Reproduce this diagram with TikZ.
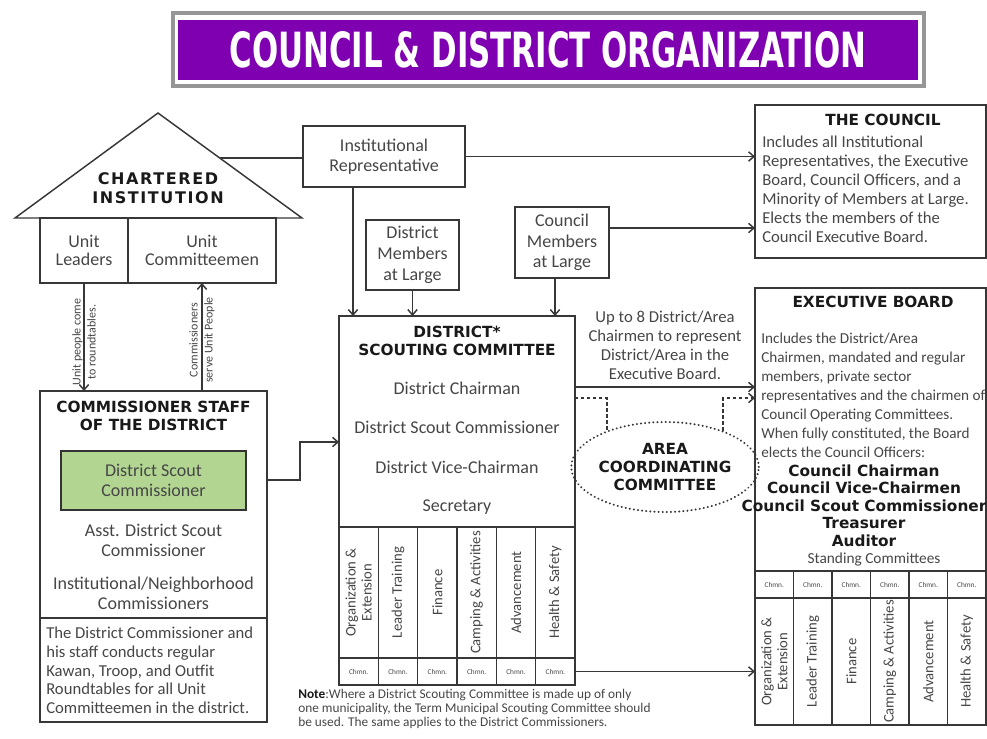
\documentclass[tikz,border=0pt]{standalone}
\usepackage{fontspec}
\setmainfont{Carlito}
\newfontfamily\headfont{DejaVu Sans}
\usepackage{graphicx}
\usetikzlibrary{positioning}
\usetikzlibrary{calc}
\usetikzlibrary{arrows.meta}
\usetikzlibrary{shapes.geometric}

\newdimen\px \px=0.75pt

\definecolor{titlepurple}{RGB}{126,0,176}
\definecolor{framegray}{RGB}{150,150,150}
\definecolor{inkgray}{RGB}{55,55,55}
\definecolor{textgray}{RGB}{70,70,70}
\definecolor{headblack}{RGB}{25,25,25}
\definecolor{dscgreen}{RGB}{178,214,146}

\tikzset{
  outline/.style={draw=inkgray, line width=1.1pt},
  box/.style={outline, inner sep=0pt, outer sep=0pt},
  txt/.style={font=\fontsize{13.5}{15}\selectfont, text=textgray, align=center},
  para/.style={font=\fontsize{12.5}{14.3}\selectfont, text=textgray, align=left, inner sep=0pt},
  head/.style={font=\headfont\bfseries\fontsize{11.5}{13.5}\selectfont, text=headblack, align=center},
  collabel/.style={rotate=90, font=\fontsize{11}{12}\selectfont, text=textgray, align=center},
  chmn/.style={box, font=\fontsize{5.5}{6}\selectfont, text=textgray},
  tinylabel/.style={rotate=90, font=\fontsize{9}{11.25}\selectfont, text=textgray, align=center, inner sep=0pt},
  conn/.style={outline, ->},
  dashconn/.style={draw=inkgray, line width=1.1pt, dash pattern=on 2.5pt off 2pt, ->},
}

\begin{document}
\begin{tikzpicture}[x=0.75pt, y=-0.75pt, >={Straight Barb[length=4pt,width=7pt]}]
    \useasboundingbox (0,0) rectangle (987,738);

    % title banner
    \draw[framegray, line width=2.5pt, fill=white] (173,13) rectangle (924,86);
    \node[fill=titlepurple, text=white, minimum width=740\px, minimum height=60\px, inner sep=0pt] (title) at (548,50)
        {\resizebox{637\px}{36\px}{\headfont\bfseries COUNCIL \& DISTRICT ORGANIZATION}};

    % the chartered institution house
    \draw[outline] (15,218) -- (158,113) -- (302,218) -- cycle;
    \coordinate (roofpt) at (220,158);
    \node[head, font=\headfont\bfseries\fontsize{12}{14.5}\selectfont\addfontfeature{LetterSpace=10}] (chartered) at (158,188) {CHARTERED\\INSTITUTION};
    \node[box, txt, font=\fontsize{13.5}{13.5}\selectfont, minimum width=88\px, minimum height=65\px] (unitlead) at (84,250.5) {Unit\\Leaders};
    \node[box, txt, font=\fontsize{13.5}{13.5}\selectfont, minimum width=148\px, minimum height=65\px, right=0pt of unitlead] (unitcomm) {Unit\\Committeemen};

    % commissioner staff
    \node[box, minimum width=227\px, minimum height=227\px] (comstaff) at (153.5,504.5) {};
    \node[head] (comhead) at (153.5,416) {COMMISSIONER STAFF\\OF THE DISTRICT};
    \node[box, draw=black!80, fill=dscgreen, txt, minimum width=185\px, minimum height=59\px] (comdsc) at (153.5,480.5) {District Scout\\Commissioner};
    \node[txt] (comasst) at (153.5,540) {Asst. District Scout\\Commissioner};
    \node[txt] (cominst) at (153.5,593) {Institutional/Neighborhood\\Commissioners};
    \node[box, minimum width=227\px, minimum height=104\px, below=0pt of comstaff] (comnote) {};
    \node[para, font=\fontsize{12.5}{14}\selectfont, anchor=west] (comnotetxt) at (46,670.5) {The District Commissioner and\\his staff conducts regular\\Kawan, Troop, and Outfit\\Roundtables for all Unit\\Committeemen in the district.};

    % institutional representative and members at large
    \node[box, txt, minimum width=162\px, minimum height=61\px] (instrep) at (384,156.5) {Institutional\\Representative};
    \node[box, txt, font=\fontsize{13.5}{15.5}\selectfont, minimum width=93\px, minimum height=70\px] (dmal) at (412.5,255) {District\\Members\\at Large};
    \node[box, txt, font=\fontsize{13.5}{15.5}\selectfont, minimum width=94\px, minimum height=71\px] (cmal) at (562,242.5) {Council\\Members\\at Large};

    % district scouting committee
    \node[box, minimum width=236\px, minimum height=211\px] (dsctop) at (457,421.5) {};
    \node[head] (dschead) at (457,341) {DISTRICT*\\SCOUTING COMMITTEE};
    \node[txt] (dscchair) at (457,388) {District Chairman};
    \node[txt] (dscscout) at (457,427) {District Scout Commissioner};
    \node[txt] (dscvice) at (457,467) {District Vice-Chairman};
    \node[txt] (dscsec) at (457,507) {Secretary};
    \foreach \lbl [count=\i] in {{Organization \&\\Extension}, Leader Training, Finance, {Camping \& Activities}, Advancement, {Health \& Safety}} {
        \node[box, minimum width=39.33\px, minimum height=131\px] (dcol\i) at ({339+(\i-0.5)*39.33},592.5) {};
        \node[collabel] (dcoltxt\i) at (dcol\i) {\lbl};
        \node[chmn, minimum width=39.33\px, minimum height=27\px] (dchmn\i) at ({339+(\i-0.5)*39.33},671.5) {Chmn.};
    }
    \node[txt, font=\fontsize{12.5}{14.3}\selectfont] (upto) at (665,345.5) {Up to 8 District/Area\\Chairmen to represent\\District/Area in the\\Executive Board.};
    \node[ellipse, draw=inkgray, line width=1.6pt, dash pattern=on 0.1pt off 3pt, line cap=round, minimum width=148\px, minimum height=90\px, head, inner sep=0pt] (area) at (665,467) {AREA\\COORDINATING\\COMMITTEE};

    % the council
    \node[box, minimum width=231\px, minimum height=153\px] (council) at (870.5,181.5) {};
    \node[head] (councilhead) at (883,120) {THE COUNCIL};
    \node[para, anchor=west] (counciltxt) at (762,189.5) {Includes all Institutional\\Representatives, the Executive\\Board, Council Officers, and a\\Minority of Members at Large.\\Elects the members of the\\Council Executive Board.};

    % executive board
    \node[box, minimum width=231\px, minimum height=283\px] (execbox) at (870.5,429.5) {};
    \node[head] (exechead) at (873,302) {EXECUTIVE BOARD};
    \node[para, font=\fontsize{11.4}{14.3}\selectfont, anchor=west] (exectxt) at (761,395) {Includes the District/Area\\Chairmen, mandated and regular\\members, private sector\\representatives and the chairmen of\\Council Operating Committees.\\When fully constituted, the Board\\elects the Council Officers:};
    \node[head, font=\headfont\bfseries\fontsize{11.5}{13.2}\selectfont] (officers) at (864,505.5) {Council Chairman\\Council Vice-Chairmen\\Council Scout Commissioner\\Treasurer\\Auditor};
    \node[txt, font=\fontsize{11.5}{13}\selectfont] (standing) at (874,559.5) {Standing Committees};
    \foreach \lbl [count=\i] in {{Organization \&\\Extension}, Leader Training, Finance, {Camping \& Activities}, Advancement, {Health \& Safety}} {
        \node[chmn, minimum width=38.5\px, minimum height=27\px] (echmn\i) at ({755+(\i-0.5)*38.5},584.5) {Chmn.};
        \node[box, minimum width=38.5\px, minimum height=127\px] (ecol\i) at ({755+(\i-0.5)*38.5},661.5) {};
        \node[collabel] (ecoltxt\i) at (ecol\i) {\lbl};
    }

    % note
    \node[para, font=\fontsize{10}{10.5}\selectfont, anchor=west] (note) at (298,709) {\textbf{\color{headblack}Note}:Where a District Scouting Committee is made up of only\\one municipality, the Term Municipal Scouting Committee should\\be used. The same applies to the District Commissioners.};

    % the arrows and labels
    \draw[conn] (unitlead.south) -- (unitlead.south |- comstaff.north);
    \draw[conn] (unitcomm.south |- comstaff.north) -- (unitcomm.south);
    \node[tinylabel] (comelbl) at (84,342) {Unit people come\\to roundtables.};
    \node[tinylabel] (servelbl) at (202,340) {Commissioners\\serve Unit People};

    \draw[outline] (roofpt) -- (roofpt -| instrep.west);
    \draw[conn] (instrep.east) -- (instrep.east -| council.west);
    \coordinate (irfoot) at ([xshift=-31\px]instrep.south);
    \draw[conn] (irfoot) -- (irfoot |- dsctop.north);
    \draw[conn] (dmal.south) -- (dmal.south |- dsctop.north);
    \coordinate (cmalfoot) at ([xshift=-7\px]cmal.south);
    \draw[conn] (cmalfoot) -- (cmalfoot |- dsctop.north);
    \coordinate (cmalout) at ([yshift=14.5\px]cmal.east);
    \draw[conn] (cmalout) -- (cmalout -| council.west);

    \coordinate (csout) at ([yshift=24.5\px]comstaff.east);
    \coordinate (dscin) at ([yshift=-20.5\px]dsctop.west);
    \draw[conn] (csout) -- ++(33,0) |- (dscin);

    \coordinate (dscout) at ([yshift=34.5\px]dsctop.east);
    \draw[conn] (dscout) -- (dscout -| execbox.west);
    \coordinate (dashout) at ([yshift=23.5\px]dsctop.east);
    \coordinate (dashin) at (dashout -| execbox.west);
    \draw[dashconn, -] (dashout) -| (area.148);
    \draw[dashconn] (area.32) |- (dashin);
    \draw[conn] (dchmn6.east) -- (dchmn6.east -| execbox.west);
\end{tikzpicture}
\end{document}
